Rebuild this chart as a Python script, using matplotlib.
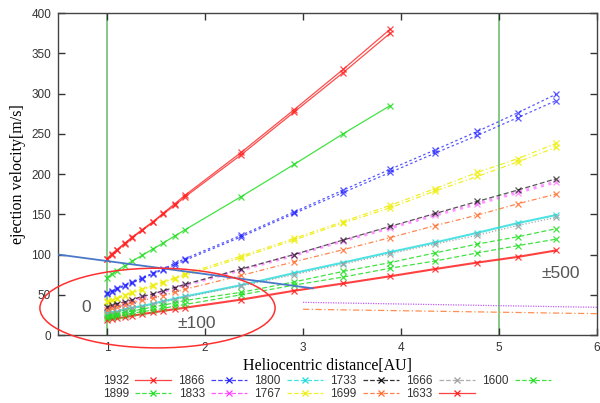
import matplotlib
matplotlib.use("Agg")
import matplotlib.pyplot as plt
from matplotlib.lines import Line2D
from matplotlib.patches import Ellipse
from matplotlib.legend_handler import HandlerLine2D

# ---------------- data ----------------
dist_short = [1.00, 1.05, 1.10, 1.18, 1.26, 1.36, 1.47, 1.57, 1.69, 1.80, 2.37, 2.91, 3.41, 3.89]
dist_long = [1.00, 1.05, 1.10, 1.18, 1.26, 1.36, 1.47, 1.57, 1.69, 1.80, 2.37, 2.91, 3.41, 3.89,
             4.35, 4.78, 5.19, 5.58]

v1932 = [95, 101, 106, 114, 122, 131, 141, 151, 163, 174, 227, 280, 330, 380]
v1932b = [94, 100, 105, 113, 121, 130, 140, 150, 161, 172, 224, 277, 326, 375]
v1899 = [71, 76, 80, 86, 92, 99, 107, 114, 123, 131, 172, 212, 250, 285]
v1866 = [52, 55, 58, 62, 66, 71, 77, 82, 89, 95, 124, 153, 180, 206, 230, 253, 276, 299]
v1866b = [51, 54, 57, 61, 65, 70, 76, 81, 87, 93, 122, 151, 177, 202, 226, 248, 270, 291]
v1833 = [34, 36, 38, 40, 43, 47, 50, 54, 58, 62, 81, 99, 117, 133, 149, 163, 177, 190]
v1800 = [27, 28, 29, 32, 34, 36, 39, 42, 45, 48, 62, 77, 90, 103, 115, 127, 139, 149]
v1767 = [42, 44, 46, 50, 53, 57, 62, 66, 71, 76, 98, 120, 141, 161, 182, 202, 219, 238]
v1767b = [41, 43, 45, 49, 52, 56, 61, 65, 70, 74, 96, 118, 139, 158, 179, 197, 215, 233]
v1733 = [35, 37, 39, 41, 44, 48, 51, 55, 59, 63, 82, 100, 118, 135, 151, 166, 180, 194]
v1699 = [31, 33, 35, 37, 40, 43, 46, 49, 53, 57, 74, 91, 106, 121, 136, 149, 163, 175]
v1666 = [26, 27, 28, 31, 33, 35, 38, 41, 44, 47, 61, 75, 88, 101, 113, 124, 136, 146]
v1633 = [19, 20, 21, 22, 24, 26, 28, 30, 32, 34, 44, 55, 64, 73, 82, 90, 97, 105]
v1600 = [24, 25, 26, 28, 30, 32, 35, 37, 40, 43, 53, 66, 79, 90, 102, 113, 122, 132]
v1600b = [21, 22, 23, 25, 27, 29, 31, 33, 36, 38, 50, 62, 72, 83, 92, 102, 111, 119]

years = ["1932", "1899", "1866", "1833", "1800", "1767", "1733", "1699", "1666", "1633", "1600"]

guide_x = [0.5, 3.1]
guide_v = [100, 58]
violet_x = [3.0, 6.0]
violet_v = [40.6, 34.4]
orange_x = [3.0, 6.0]
orange_v = [32, 26.5]
vlines_x = [1, 5]

# ---------------- styles ----------------
C = {
    "red": "#ff2020", "green": "#22dd22", "blue": "#2020ff", "magenta": "#ff40ff",
    "cyan": "#20dddd", "yellow": "#eeee10", "black": "#101010", "orange": "#ff7030",
    "gray": "#a0a0a0",
}
DOT = (0, (2, 2))
FINE = (0, (1, 1.5))
DASH = (0, (4, 2))
DASHDOT = (0, (4, 2, 1, 2))
LDASH = (0, (5, 3))

# (x, y, color, linestyle, lw, alpha)
series = [
    (dist_short, v1932, C["red"], "-", 0.9, 0.8),
    (dist_short, v1932b, C["red"], "-", 0.9, 0.8),
    (dist_short, v1899, C["green"], "-", 0.9, 0.85),
    (dist_long, v1866, C["blue"], DOT, 0.9, 0.75),
    (dist_long, v1866b, C["blue"], DOT, 0.9, 0.75),
    (dist_long, v1833, C["magenta"], FINE, 2.2, 0.55),
    (dist_long, v1800, C["cyan"], "-", 1.5, 0.8),
    (dist_long, v1767, C["yellow"], DASHDOT, 0.9, 0.9),
    (dist_long, v1767b, C["yellow"], DASHDOT, 0.9, 0.9),
    (dist_long, v1733, C["black"], DASH, 0.9, 0.7),
    (dist_long, v1699, C["orange"], DASHDOT, 0.9, 0.85),
    (dist_long, v1666, C["gray"], FINE, 0.9, 0.9),
    (dist_long, v1633, C["red"], "-", 1.5, 0.85),
    (dist_long, v1600, C["green"], DASH, 0.9, 0.85),
    (dist_long, v1600b, C["green"], DASH, 0.9, 0.85),
]

legend_styles = [
    (C["red"], "-"), (C["green"], DASH), (C["blue"], DOT), (C["magenta"], FINE),
    (C["cyan"], LDASH), (C["yellow"], DASHDOT), (C["black"], DASH), (C["orange"], DASHDOT),
    (C["gray"], FINE), (C["red"], "-"), (C["green"], DASH),
]

plt.rcParams["font.family"] = ["Liberation Sans", "DejaVu Sans"]

fig = plt.figure(figsize=(6.0, 4.03), dpi=100)
ax = fig.add_axes([0.0967, 0.1687, 0.8983, 0.799])

for xv in vlines_x:
    ax.axvline(xv, color="#7cc47c", lw=1.3, zorder=1)

for x, y, col, ls, lw, a in series:
    ax.plot(x, y, color=col, linestyle=ls, lw=lw, alpha=a, marker="x",
            markersize=4.5, markeredgewidth=0.9, zorder=3)

ax.plot(guide_x, guide_v, color="#4a78c8", lw=1.3, zorder=4)
ax.plot(violet_x, violet_v, color="#c060f0", lw=0.9, linestyle=(0, (1, 1)), zorder=2)
ax.plot(orange_x, orange_v, color="#ff9050", lw=0.9, linestyle=(0, (5, 2, 1, 2)), zorder=2)

ell = Ellipse((1.515, 33.5), 2.4, 99, fill=False, edgecolor="#ff3030", lw=1.1,
              clip_on=False, zorder=5)
ax.add_patch(ell)

ax.text(0.79, 34.8, "0", color="#555555", fontsize=12.5, ha="center", va="center")
ax.text(1.92, 14.3, "±100", color="#555555", fontsize=12.5, ha="center", va="center")
ax.text(5.63, 77, "±500", color="#555555", fontsize=12.5, ha="center", va="center")

ax.set_xlim(0.5, 6)
ax.set_ylim(0, 400)
ax.set_xticks([1, 2, 3, 4, 5, 6])
ax.set_yticks(range(0, 401, 50))
ax.tick_params(direction="in", top=True, right=True, length=5, width=1,
               labelsize=8.5, colors="#333333", pad=5)
for sp in ax.spines.values():
    sp.set_color("#444444")
    sp.set_linewidth(1.0)

ax.set_xlabel("Heliocentric distance[AU]", family="Liberation Serif", fontsize=11.5, labelpad=3)
ax.set_ylabel("ejection velocity[m/s]", family="Liberation Serif", fontsize=11.5, labelpad=4)

handles = [Line2D([0, 1], [0, 0], color=c, linestyle=ls, lw=1.0) for c, ls in legend_styles]


class XHandler(HandlerLine2D):
    def create_artists(self, legend, orig_handle, xdescent, ydescent, width, height,
                       fontsize, trans):
        y = height / 2 - ydescent
        line = Line2D([-xdescent, width - xdescent], [y, y], color=orig_handle.get_color(),
                      linestyle=orig_handle.get_linestyle(), lw=0.9, alpha=0.85,
                      transform=trans)
        mk = Line2D([width / 2 - xdescent], [y], color=orig_handle.get_color(), marker="x",
                    markersize=4.5, markeredgewidth=0.9, linestyle="none", transform=trans)
        return [line, mk]


leg = fig.legend(handles, years, loc="center", bbox_to_anchor=(0.545, 0.038), ncol=6,
                 frameon=False, markerfirst=False, fontsize=8.5, handlelength=3.1,
                 handletextpad=0.5, columnspacing=0.6, labelspacing=0.05,
                 handler_map={Line2D: XHandler()})
for t in leg.get_texts():
    t.set_color("#333333")

fig.savefig("out.png", dpi=100)
